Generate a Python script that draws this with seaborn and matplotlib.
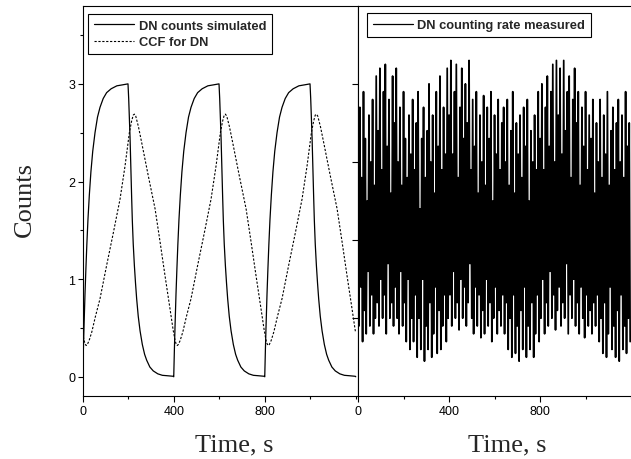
import numpy as np
import pandas as pd
import matplotlib
matplotlib.use('Agg')
import matplotlib.pyplot as plt
import seaborn as sns
from matplotlib.ticker import MultipleLocator, NullFormatter

# one 400 s irradiation / decay cycle
cycle_starts = [0, 400, 800]
sim_time = [0, 3, 6, 10, 14, 18, 23, 29, 36, 44, 54, 65, 76, 90, 105, 125, 150, 175, 199,
            202, 205, 208, 212, 215, 218, 222, 227, 232, 237, 244, 252, 262, 272, 281, 295,
            310, 330, 350, 375, 398]
sim_counts = [0.0, 0.29, 0.54, 0.85, 1.11, 1.35, 1.61, 1.86, 2.10, 2.31, 2.50, 2.66, 2.76, 2.85,
              2.91, 2.95, 2.98, 2.99, 3.0, 2.85, 2.65, 2.45, 2.10, 1.84, 1.60, 1.36, 1.14, 0.96,
              0.80, 0.62, 0.47, 0.33, 0.23, 0.17, 0.10, 0.06, 0.03, 0.015, 0.01, 0.005]
ccf_time = [0, 5, 10, 15, 20, 28, 40, 55, 76, 105, 135, 164, 186, 205, 215, 222, 227, 233,
            245, 259, 288, 318, 340, 362, 384, 398]
ccf_counts = [0.45, 0.38, 0.34, 0.32, 0.33, 0.37, 0.46, 0.61, 0.80, 1.14, 1.48, 1.82, 2.16, 2.50,
              2.62, 2.68, 2.69, 2.67, 2.56, 2.40, 2.06, 1.72, 1.38, 1.03, 0.69, 0.47]
end_time = 1200
sim_end = 0.0
ccf_end = 0.45

# measured counting rate, one sample every 4 s (arbitrary units, right panel)
rate_step = 4
measured_rate = [
    3.2, 0.9, 3.7, 1.4, 2.8, 0.7, 3.9, 1.1, 3.3, 0.8, 2.5, 1.6, 3.6, 0.9, 3.0, 1.3, 3.8, 0.8, 2.7, 1.0,
    4.1, 1.2, 3.4, 0.9, 4.2, 1.5, 2.9, 1.0, 3.9, 1.3, 4.25, 0.8, 3.2, 1.7, 3.8, 1.0, 2.6, 1.2, 4.1, 0.9,
    3.5, 1.4, 4.2, 1.0, 3.0, 0.8, 3.7, 1.6, 2.7, 0.9, 3.9, 1.2, 3.3, 0.7, 2.8, 1.5, 3.6, 0.6, 3.1, 1.0,
    3.8, 0.7, 2.9, 1.3, 3.5, 0.5, 3.9, 1.0, 2.4, 0.6, 3.3, 1.5, 3.7, 0.45, 2.8, 0.9, 3.4, 0.6, 4.0, 1.2,
    3.0, 0.5, 3.6, 0.8, 2.6, 1.4, 3.9, 0.55, 3.2, 1.1, 4.1, 0.6, 2.9, 0.9, 3.7, 1.3, 3.1, 0.7, 4.2, 1.0,
    3.6, 1.3, 4.3, 0.9, 3.1, 1.6, 3.9, 1.0, 4.25, 1.2, 2.8, 0.85, 3.7, 1.5, 4.2, 1.0, 3.3, 1.4, 4.0, 0.9,
    3.5, 1.2, 4.3, 1.7, 2.9, 1.0, 3.8, 0.8, 3.2, 1.4, 3.9, 0.9, 2.6, 1.3, 3.6, 0.75, 3.0, 1.1, 3.85, 0.8,
    2.7, 1.5, 3.7, 0.9, 3.3, 1.2, 3.9, 0.7, 2.5, 1.0, 3.6, 1.4, 3.1, 0.8, 3.8, 1.1, 2.9, 0.9, 3.5, 1.3,
    3.7, 0.8, 3.0, 1.2, 3.8, 0.6, 2.7, 1.0, 3.4, 0.5, 3.9, 1.3, 2.6, 0.55, 3.5, 0.9, 3.1, 0.45, 3.6, 1.1,
    2.8, 0.6, 3.7, 1.4, 3.2, 0.5, 3.8, 0.9, 2.5, 0.6, 3.4, 1.2, 3.0, 0.5, 3.6, 0.8, 2.9, 1.3, 3.9, 0.7,
    3.3, 1.0, 4.0, 1.5, 2.9, 0.8, 3.7, 1.2, 4.1, 0.9, 3.2, 1.6, 3.9, 1.0, 4.25, 1.3, 3.0, 0.85, 4.3, 1.1,
    3.6, 1.4, 4.2, 0.9, 3.1, 1.2, 4.3, 1.0, 3.4, 1.7, 3.9, 0.8, 4.1, 1.3, 2.8, 1.0, 3.8, 1.5, 4.2, 0.9,
    3.5, 1.2, 3.9, 0.8, 2.7, 1.4, 3.7, 1.0, 3.2, 0.75, 3.9, 1.3, 2.9, 0.9, 3.6, 1.1, 3.3, 0.8, 3.8, 1.2,
    2.6, 0.9, 3.5, 1.3, 3.0, 0.7, 3.8, 1.0, 2.8, 0.55, 3.6, 1.2, 3.1, 0.5, 3.9, 0.8, 2.7, 1.4, 3.4, 0.6,
    3.7, 0.9, 2.9, 0.5, 3.5, 1.1, 3.8, 0.45, 3.0, 1.3, 3.6, 0.6, 2.8, 0.9, 3.9, 0.55, 3.2, 1.0, 3.5, 0.7,
]

sns.set_theme(style='ticks', rc={
    'axes.edgecolor': 'black',
    'axes.linewidth': 0.8,
    'xtick.color': 'black',
    'ytick.color': 'black',
    'xtick.major.width': 0.8,
    'ytick.major.width': 0.8,
    'xtick.minor.width': 0.8,
    'ytick.minor.width': 0.8,
    'xtick.major.size': 4,
    'ytick.major.size': 3.5,
    'xtick.minor.size': 2,
    'ytick.minor.size': 2,
    'xtick.labelsize': 9,
    'ytick.labelsize': 9,
})
plt.rcParams['font.family'] = ['Liberation Sans', 'DejaVu Sans']

sim = pd.DataFrame({
    'time': np.concatenate([np.array(sim_time) + s for s in cycle_starts] + [[end_time]]),
    'counts': np.concatenate([sim_counts] * len(cycle_starts) + [[sim_end]]),
})
ccf = pd.DataFrame({
    'time': np.concatenate([np.array(ccf_time) + s for s in cycle_starts] + [[end_time]]),
    'counts': np.concatenate([ccf_counts] * len(cycle_starts) + [[ccf_end]]),
})
measured = pd.DataFrame({
    'time': np.arange(len(measured_rate)) * rate_step,
    'rate': measured_rate,
})

fig = plt.figure(figsize=(6.31, 4.60), dpi=100)
ax1 = fig.add_axes([0.1311, 0.1363, 0.4363, 0.849])
ax2 = fig.add_axes([0.5674, 0.1363, 0.4327, 0.849])

sns.lineplot(data=sim, x='time', y='counts', ax=ax1, color='black', linewidth=0.9,
             label='DN counts simulated')
sns.lineplot(data=ccf, x='time', y='counts', ax=ax1, color='black', linewidth=0.8,
             linestyle=(0, (2, 1.5)), label='CCF for DN')
sns.lineplot(data=measured, x='time', y='rate', ax=ax2, color='black', linewidth=1.25,
             label='DN counting rate measured')

# left panel
ax1.set_xlim(0, 1210)
ax1.set_ylim(-0.2, 3.8)
ax1.set_xticks([0, 400, 800])
ax1.xaxis.set_minor_locator(MultipleLocator(200))
ax1.yaxis.set_major_locator(MultipleLocator(1))
ax1.yaxis.set_minor_locator(MultipleLocator(0.5))
ax1.set_xlabel('')
ax1.set_ylabel('')

# right panel, own unlabelled scale
ax2.set_xlim(0, 1200)
ax2.set_ylim(0, 5)
ax2.set_xticks([0, 400, 800])
ax2.xaxis.set_minor_locator(MultipleLocator(200))
ax2.set_yticks([1, 2, 3, 4])
ax2.yaxis.set_major_formatter(NullFormatter())
ax2.tick_params(axis='y', length=4)
ax2.spines['right'].set_visible(False)
ax2.set_xlabel('')
ax2.set_ylabel('')

for ax in (ax1, ax2):
    ax.tick_params(which='both', direction='out', pad=2)

legend_kw = dict(loc='upper left', borderaxespad=0, frameon=True, fancybox=False,
                 edgecolor='black', framealpha=1, prop={'weight': 'bold', 'size': 9.3},
                 handlelength=3.1, handletextpad=0.35, borderpad=0.45, labelspacing=0.35)
leg1 = ax1.legend(bbox_to_anchor=(0.020, 0.979), **legend_kw)
leg2 = ax2.legend(bbox_to_anchor=(0.032, 0.981), **legend_kw)
for leg in (leg1, leg2):
    leg.get_frame().set_linewidth(0.8)
for line in leg2.get_lines():
    line.set_linewidth(0.9)

serif = ['Liberation Serif', 'DejaVu Serif']
fig.text(25 / 631, 1 - 200 / 460, 'Counts', rotation=90, ha='center', va='center',
         fontsize=19, family=serif)
fig.text(234 / 631, 1 - 451.7 / 460, 'Time, s', ha='center', va='baseline',
         fontsize=19, family=serif)
fig.text(507.5 / 631, 1 - 451.7 / 460, 'Time, s', ha='center', va='baseline',
         fontsize=19, family=serif)

fig.savefig('out.png', dpi=100)
